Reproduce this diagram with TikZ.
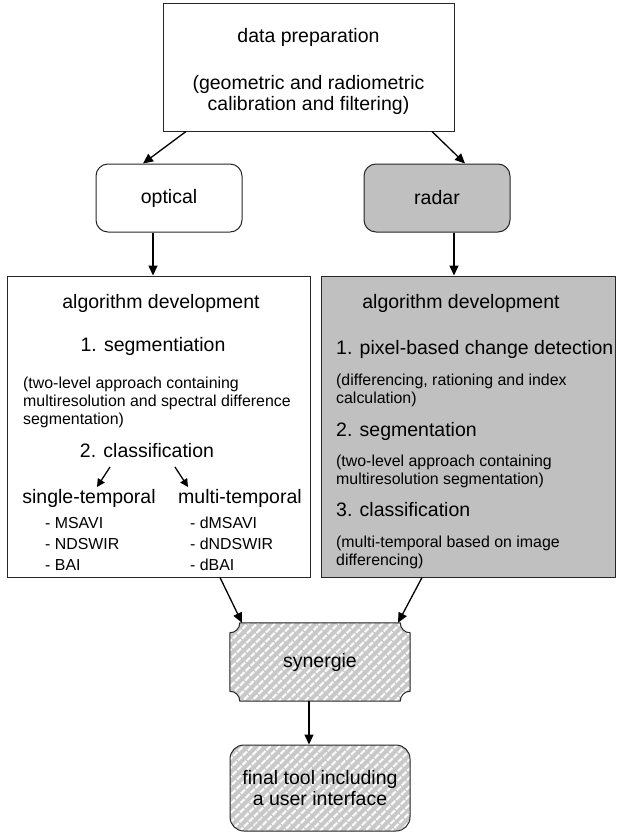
\documentclass[tikz,border=0pt]{standalone}
\usepackage{fontspec}
\setmainfont{Liberation Sans}
\usepackage{tikz}
\usetikzlibrary{arrows.meta,patterns.meta,backgrounds}
\definecolor{boxgray}{RGB}{192,192,192}
\definecolor{hatchgray}{RGB}{200,200,200}

\begin{document}
\begin{tikzpicture}[x=1pt,y=1pt,
	box/.style={draw=black!85,line width=1pt},
	roundbox/.style={box,rounded corners=12pt},
	hatched/.style={preaction={fill=hatchgray},pattern={Lines[angle=45,distance=6.4pt,line width=2.2pt]},pattern color=white},
	arr/.style={-{Triangle[length=10pt,width=9pt]},line width=1.3pt},
	smallarr/.style={-{Triangle[length=8pt,width=8pt]},line width=1.3pt},
	big/.style={font=\fontsize{19.5}{21}\selectfont,inner sep=0pt},
	small/.style={font=\fontsize{15.9}{18}\selectfont,inner sep=0pt}]
		\useasboundingbox (0,0) rectangle (617,-833);
		% 数据准备
		\node[box,minimum width=291pt,minimum height=128pt] (prep) at (308.5,-67) {};
		\node[big,anchor=base] (prepT) at (308.5,-42) {data preparation};
		\node[big,anchor=base] (prepT1) at (308.5,-89) {(geometric and radiometric};
		\node[big,anchor=base] (prepT2) at (308.5,-110) {calibration and filtering)};
		% 两个数据源
		\node[roundbox,big,minimum width=146pt,minimum height=68pt] (optical) at (169,-198) {optical};
		\node[roundbox,big,fill=boxgray,minimum width=146pt,minimum height=68pt] (radar) at (437,-198) {radar};
		% 左侧算法框
		\node[box,minimum width=303pt,minimum height=301pt] (algL) at (158.5,-426.5) {};
		\node[big,anchor=base] (algLT) at (161,-308) {algorithm development};
		\node[big,anchor=base] (segL) at (153,-351) {1. segmentiation};
		\node[small,anchor=base west] (segL1) at (23,-388) {(two-level approach containing};
		\node[small,anchor=base west] (segL2) at (23,-406) {multiresolution and spectral difference};
		\node[small,anchor=base west] (segL3) at (23,-424) {segmentation)};
		\node[big,anchor=base] (clsL) at (147,-457) {2. classification};
		\node[big,anchor=base] (single) at (89,-503) {single-temporal};
		\node[big,anchor=base] (multi) at (240,-503) {multi-temporal};
		\node[small,anchor=base west] (s1) at (45,-528) {- MSAVI};
		\node[small,anchor=base west] (s2) at (45,-549) {- NDSWIR};
		\node[small,anchor=base west] (s3) at (45,-570) {- BAI};
		\node[small,anchor=base west] (m1) at (190,-528) {- dMSAVI};
		\node[small,anchor=base west] (m2) at (190,-549) {- dNDSWIR};
		\node[small,anchor=base west] (m3) at (190,-570) {- dBAI};
		% 右侧算法框
		\node[box,fill=boxgray,minimum width=294pt,minimum height=301pt] (algR) at (468,-426.5) {};
		\node[big,anchor=base] (algRT) at (461,-308) {algorithm development};
		\node[big,anchor=base west] (pix) at (336,-354) {1. pixel-based change detection};
		\node[small,anchor=base west] (pix1) at (336,-385) {(differencing, rationing and index};
		\node[small,anchor=base west] (pix2) at (336,-403) {calculation)};
		\node[big,anchor=base west] (segR) at (336,-436) {2. segmentation};
		\node[small,anchor=base west] (segR1) at (336,-466) {(two-level approach containing};
		\node[small,anchor=base west] (segR2) at (336,-484) {multiresolution segmentation)};
		\node[big,anchor=base west] (clsR) at (336,-516) {3. classification};
		\node[small,anchor=base west] (clsR1) at (336,-547) {(multi-temporal based on image};
		\node[small,anchor=base west] (clsR2) at (336,-565) {differencing)};
		% 融合与最终工具
		\node[big,minimum width=180pt,minimum height=78pt] (syn) at (320,-662) {synergie};
		\begin{scope}[on background layer]
			\draw[box,hatched] ([xshift=10pt]syn.north west) -- ([xshift=-10pt]syn.north east)
				arc[start angle=180,end angle=270,radius=10pt] -- ([yshift=10pt]syn.south east)
				arc[start angle=90,end angle=180,radius=10pt] -- ([xshift=10pt]syn.south west)
				arc[start angle=0,end angle=90,radius=10pt] -- ([yshift=-10pt]syn.north west)
				arc[start angle=270,end angle=360,radius=10pt] -- cycle;
		\end{scope}
		\node[roundbox,hatched,big,rounded corners=14pt,align=center,minimum width=180pt,minimum height=86pt] (final) at (320,-788) {final tool including\\a user interface};
		% 箭头
		\draw[arr] ([xshift=-122.5pt]prep.south) -- ([xshift=-26pt]optical.north);
		\draw[arr] ([xshift=123.5pt]prep.south) -- ([xshift=28pt]radar.north);
		\draw[arr] ([xshift=-16pt]optical.south) -- ([xshift=-5.5pt]algL.north);
		\draw[arr] ([xshift=17pt]radar.south) -- ([xshift=-14pt]algR.north);
		\draw[smallarr] ([shift={(-37pt,-10pt)}]clsL.base) -- ([shift={(8pt,16pt)}]single.base);
		\draw[smallarr] ([shift={(28pt,-10pt)}]clsL.base) -- ([shift={(-52pt,16pt)}]multi.base);
		\draw[arr] ([xshift=61.5pt]algL.south) -- ([xshift=-78pt]syn.north);
		\draw[arr] ([xshift=-46pt]algR.south) -- ([xshift=78pt]syn.north);
		\draw[arr] ([xshift=-11pt]syn.south) -- ([xshift=-11pt]final.north);
	\end{tikzpicture}
\end{document}
